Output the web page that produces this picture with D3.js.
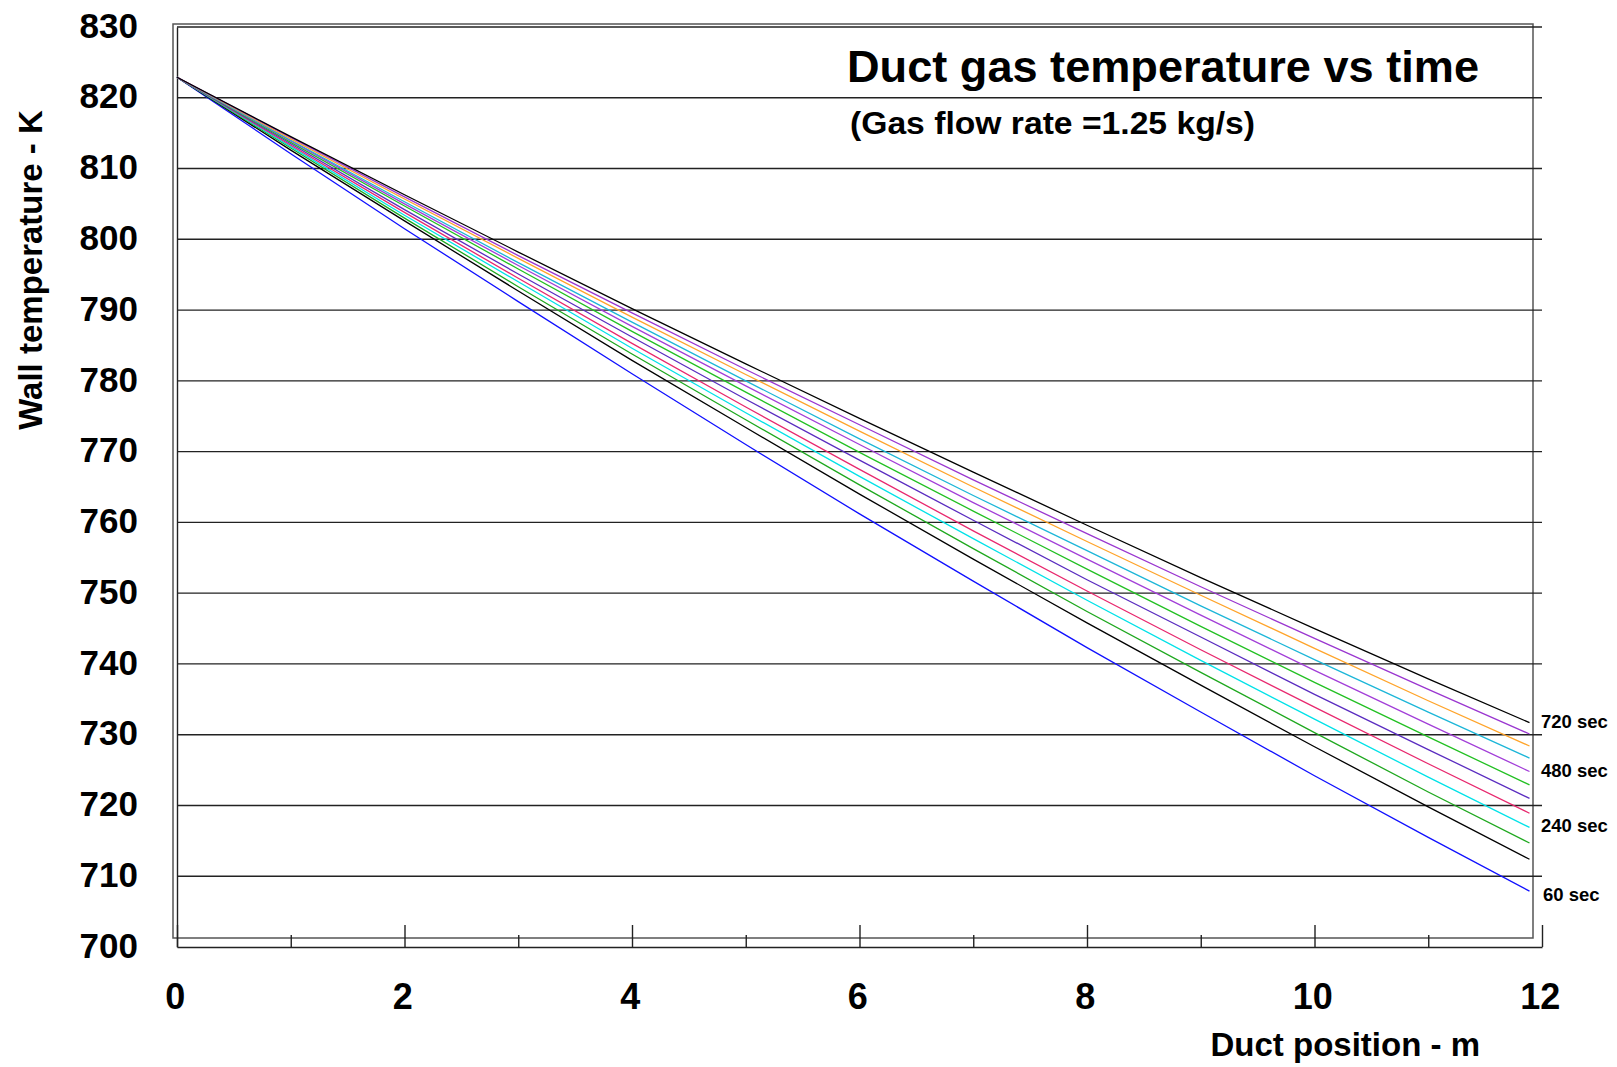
<!DOCTYPE html>
<html><head><meta charset="utf-8">
<script src="https://cdn.jsdelivr.net/npm/d3@7"></script>
<style>
body{margin:0;background:#fff}
svg{display:block}
text{font-family:"Liberation Sans",Arial,Helvetica,sans-serif;font-weight:bold;fill:#000}
</style>
</head><body>
<svg id="chart" width="1617" height="1067"></svg>
<script>
// Duct positions (m) at which the curves are read
const positions = [0, 1, 2, 3, 4, 5, 6, 7, 8, 9, 10, 11, 11.89];
// Time of each curve (s)
const times = [60, 120, 180, 240, 300, 360, 420, 480, 540, 600, 660, 720];
// Wall temperature (K) for each curve
const t60  = [822.9, 812.1, 801.5, 791.2, 781.0, 771.0, 761.2, 751.7, 742.3, 733.2, 724.2, 715.5, 707.9];
const t120 = [822.9, 812.6, 802.6, 792.7, 782.9, 773.4, 764.0, 754.8, 745.8, 737.0, 728.3, 719.8, 712.4];
const t180 = [822.9, 812.9, 803.0, 793.3, 783.8, 774.5, 765.3, 756.3, 747.4, 738.8, 730.3, 721.9, 714.7];
const t240 = [822.9, 813.1, 803.4, 794.0, 784.6, 775.5, 766.5, 757.7, 749.0, 740.5, 732.2, 724.0, 716.9];
const t300 = [822.9, 813.3, 803.8, 794.5, 785.3, 776.3, 767.5, 758.8, 750.3, 742.0, 733.9, 725.9, 718.9];
const t360 = [822.9, 813.5, 804.2, 795.1, 786.2, 777.4, 768.8, 760.3, 751.9, 743.8, 735.7, 727.9, 721.0];
const t420 = [822.9, 813.7, 804.7, 795.8, 787.0, 778.4, 769.9, 761.6, 753.4, 745.3, 737.4, 729.7, 722.9];
const t480 = [822.9, 813.9, 805.0, 796.3, 787.7, 779.3, 771.0, 762.8, 754.8, 746.9, 739.1, 731.5, 724.8];
const t540 = [822.9, 814.0, 805.3, 796.7, 788.3, 780.0, 771.8, 763.8, 756.0, 748.2, 740.6, 733.2, 726.7];
const t600 = [822.9, 814.2, 805.7, 797.3, 789.0, 780.9, 772.9, 765.0, 757.3, 749.7, 742.2, 734.8, 728.4];
const t660 = [822.9, 814.4, 806.0, 797.7, 789.6, 781.6, 773.8, 766.0, 758.4, 750.9, 743.6, 736.4, 730.1];
const t720 = [822.9, 814.5, 806.3, 798.2, 790.2, 782.4, 774.7, 767.1, 759.6, 752.2, 745.0, 737.9, 731.7];
const seriesValues = [t60, t120, t180, t240, t300, t360, t420, t480, t540, t600, t660, t720];
const seriesColors = ["#1010ff", "#000000", "#1ea81e", "#00e2e8", "#e8286e", "#5a2cc0",
                      "#22c022", "#a23ed8", "#1cb6d8", "#ffa42a", "#9a36d0", "#000000"];
// Axis ticks
const yTicks = [700, 710, 720, 730, 740, 750, 760, 770, 780, 790, 800, 810, 820, 830];
const xTicks = [0, 2, 4, 6, 8, 10, 12];
const xMinorTicks = [1, 3, 5, 7, 9, 11];
// Curve end labels
const labelTimes = [720, 480, 240, 60];
const labelTexts = ["720 sec", "480 sec", "240 sec", "60 sec"];

const svg = d3.select("#chart");
const x = d3.scaleLinear().domain([0, 12]).range([177, 1542]);
const y = d3.scaleLinear().domain([700, 830]).range([947, 27]);

// plot frame
svg.append("rect").attr("x", 173).attr("y", 24).attr("width", 1360).attr("height", 914)
  .attr("fill", "none").attr("stroke", "#555").attr("stroke-width", 1.5);

// gridlines
svg.append("g").selectAll("line").data(yTicks.filter(d => d !== 700)).join("line")
  .attr("x1", x(0)).attr("x2", x(12))
  .attr("y1", d => y(d)).attr("y2", d => y(d))
  .attr("stroke", "#222").attr("stroke-width", 1.4);

// y axis
const yAxis = svg.append("g").attr("transform", `translate(${x(0)},0)`)
  .call(d3.axisLeft(y).tickValues(yTicks).tickSize(0).tickSizeOuter(0).tickPadding(39).tickFormat(d3.format("d")));
yAxis.select(".domain").attr("stroke", "#222").attr("stroke-width", 1.4);
yAxis.selectAll("text").attr("font-size", 35).attr("dy", "0.29em")
  .style("font-family", '"Liberation Sans",Arial,sans-serif').style("font-weight", "bold").attr("fill", "#000");

// x axis (ticks point up into plot)
const xAxis = svg.append("g").attr("transform", `translate(0,${y(700)})`)
  .call(d3.axisBottom(x).tickValues(xTicks).tickSizeInner(-22).tickSizeOuter(0).tickPadding(36).tickFormat(d3.format("d")));
xAxis.select(".domain").attr("stroke", "#222").attr("stroke-width", 1.4);
xAxis.selectAll(".tick line").attr("stroke", "#222").attr("stroke-width", 1.4);
xAxis.selectAll("text").attr("font-size", 36).attr("dx", "-0.06em")
  .style("font-family", '"Liberation Sans",Arial,sans-serif').style("font-weight", "bold").attr("fill", "#000");
const xMinor = svg.append("g").attr("transform", `translate(0,${y(700)})`)
  .call(d3.axisBottom(x).tickValues(xMinorTicks).tickSizeInner(-12).tickSizeOuter(0).tickFormat(""));
xMinor.select(".domain").remove();
xMinor.selectAll(".tick line").attr("stroke", "#222").attr("stroke-width", 1.4);

// curves
const line = d3.line().x((d, i) => x(positions[i])).y(d => y(d));
svg.append("g").selectAll("path").data(seriesValues).join("path")
  .attr("d", d => line(d))
  .attr("fill", "none")
  .attr("stroke", (d, i) => seriesColors[i])
  .attr("stroke-width", 1.3);

// end labels
const labelDy = [5, 6, 5, 10];
svg.append("g").selectAll("text").data(labelTimes).join("text")
  .attr("x", (d, i) => i === 3 ? 1543 : 1541)
  .attr("y", (d, i) => y(seriesValues[times.indexOf(d)][positions.length - 1]) + labelDy[i])
  .attr("font-size", 18.5)
  .text((d, i) => labelTexts[i]);

// titles
svg.append("text").attr("x", 847).attr("y", 82).attr("font-size", 44)
  .attr("textLength", 632).attr("lengthAdjust", "spacingAndGlyphs")
  .text("Duct gas temperature vs time");
svg.append("text").attr("x", 850).attr("y", 134).attr("font-size", 31)
  .attr("textLength", 405).attr("lengthAdjust", "spacingAndGlyphs")
  .text("(Gas flow rate =1.25 kg/s)");
svg.append("text").attr("x", 1480).attr("y", 1056).attr("font-size", 33)
  .attr("text-anchor", "end").text("Duct position - m");
svg.append("text").attr("transform", "translate(42,270) rotate(-90)")
  .attr("font-size", 33).attr("text-anchor", "middle").text("Wall temperature - K");
</script>
</body></html>
